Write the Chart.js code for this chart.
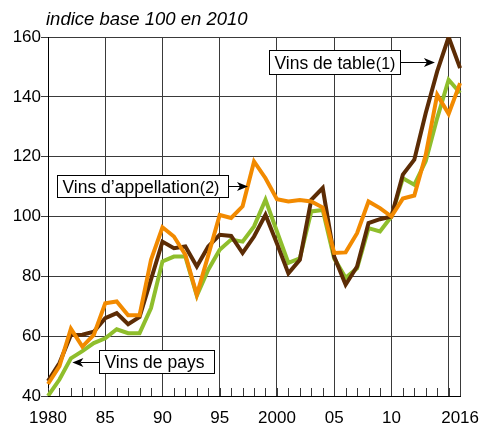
<!DOCTYPE html>
<html><head><meta charset="utf-8">
<script src="https://cdn.jsdelivr.net/npm/chart.js@4/dist/chart.umd.min.js"></script>
<style>html,body{margin:0;padding:0;background:#fff}</style>
</head><body>
<canvas id="c" width="491" height="424"></canvas>
<script>
const years = [1980,1981,1982,1983,1984,1985,1986,1987,1988,1989,1990,1991,1992,1993,1994,1995,1996,1997,1998,1999,2000,2001,2002,2003,2004,2005,2006,2007,2008,2009,2010,2011,2012,2013,2014,2015,2016];
const vinsDeTable = [45,51,60.4,60.5,61.5,66,67.7,64,66.4,79,91.6,89.4,90,83.3,90,93.9,93.5,87.8,93.3,100.6,91,81,85.5,105.6,109.5,86.6,77.2,83.3,97.8,99.1,100,114,119,134.6,148.5,160,149.6];
const vinsAppellation = [44,50,62.5,56.5,60.4,71,71.6,67,67,85.5,96.4,93.3,87.2,73.8,87,100.5,99.5,103.4,118.4,112.8,105.8,105,105.5,105,103,87.8,88,94.4,105,102.8,100,106,107,120.6,140.7,134.3,144.6];
const vinsDePays = [40,45.5,52.6,55,57.7,59.3,62.3,61,61,69.4,85,86.6,86.6,73.5,82.2,88.9,92.3,91.6,96.7,105.6,95,84.5,86,101.7,102.2,86,79.5,82.7,96.1,95,100,112.8,110.6,118.5,132.9,145.7,141.3];
const xTickLabels = {1980:'1980',1985:'85',1990:'90',1995:'95',2000:'2000',2005:'05',2010:'10',2016:'2016'};
const yTicks = [40,60,80,100,120,140,160];
const titleText = 'indice base 100 en 2010';

const FONT = '"Liberation Sans", Arial, sans-serif';
const GRID = '#3a3a3a';

// label annotations, in data units (x: year, y: index value)
const annotations = [
  {text:'Vins de table', note:'(1)', x0:1999.33, x1:2010.75, yTop:155.75, yBot:147.56, arrowTo:{x:2013.8, y:151.74}},
  {text:'Vins d\u2019appellation', note:'(2)', x0:1980.77, x1:1995.72, yTop:113.95, yBot:106.42, arrowTo:{x:1997.47, y:110.27}},
  {text:'Vins de pays', note:'', x0:1984.49, x1:1994.46, yTop:55.25, yBot:47.56, arrowTo:{x:1982.13, y:51.24}}
];

const decor = {
  id:'decor',
  beforeDatasetsDraw(chart){
    const ctx = chart.ctx, xs = chart.scales.x, a = chart.chartArea;
    ctx.save();
    ctx.strokeStyle = GRID; ctx.lineWidth = 1;
    years.forEach((yr,i)=>{
      const x = Math.round(xs.getPixelForValue(i)) + 0.5;
      ctx.beginPath(); ctx.moveTo(x, a.bottom); ctx.lineTo(x, a.bottom - 8); ctx.stroke();
    });
    ctx.restore();
  },
  afterDraw(chart){
    const ctx = chart.ctx, xs = chart.scales.x, ys = chart.scales.y, a = chart.chartArea;
    const px = yr => xs.getPixelForValue(yr - years[0]);
    ctx.save();
    ctx.fillStyle = '#000';
    ctx.font = 'italic 18.5px ' + FONT;
    ctx.textBaseline = 'alphabetic';
    ctx.fillText(titleText, a.left - 2, 25);
    annotations.forEach(an=>{
      const l = Math.round(px(an.x0)) + 0.5, r = Math.round(px(an.x1)) + 0.5;
      const t = Math.round(ys.getPixelForValue(an.yTop)) + 0.5, b = Math.round(ys.getPixelForValue(an.yBot)) + 0.5;
      ctx.fillStyle = '#fff'; ctx.fillRect(l, t, r - l, b - t);
      ctx.strokeStyle = '#000'; ctx.lineWidth = 1; ctx.strokeRect(l, t, r - l, b - t);
      ctx.fillStyle = '#000';
      ctx.font = '17.5px ' + FONT;
      const base = (t + b) / 2 + 6;
      ctx.fillText(an.text, l + 5, base);
      const w = ctx.measureText(an.text).width;
      if (an.note){ ctx.font = '16px ' + FONT; ctx.fillText(an.note, l + 5 + w + 0.5, base); }
      // arrow
      const ay = Math.round(ys.getPixelForValue(an.arrowTo.y)) + 0.5;
      const tip = px(an.arrowTo.x);
      const startX = tip > r ? r : l;
      const dir = tip > startX ? 1 : -1;
      ctx.beginPath(); ctx.moveTo(startX, ay); ctx.lineTo(tip - dir*8, ay); ctx.stroke();
      ctx.beginPath(); ctx.moveTo(tip, ay); ctx.lineTo(tip - dir*11, ay - 4.5); ctx.lineTo(tip - dir*8, ay); ctx.lineTo(tip - dir*11, ay + 4.5); ctx.closePath(); ctx.fill();
    });
    ctx.restore();
  }
};

new Chart(document.getElementById('c'), {
  type:'line',
  data:{
    labels: years.map(String),
    datasets:[
      {label:'Vins de pays', data:vinsDePays, borderColor:'#8fbe2c', order:3},
      {label:'Vins de table', data:vinsDeTable, borderColor:'#5c2c05', order:2},
      {label:'Vins d\u2019appellation', data:vinsAppellation, borderColor:'#f28a00', order:1}
    ]
  },
  options:{
    responsive:false, animation:false,
    elements:{line:{borderWidth:4, tension:0, borderCapStyle:'butt', borderJoinStyle:'miter'}, point:{radius:0}},
    layout:{padding:{left:0, right:20, top:37, bottom:0}},
    plugins:{legend:{display:false}, tooltip:{enabled:false}},
    scales:{
      x:{
        type:'category', offset:false,
        afterFit(s){ s.height = 28; },
        border:{color:'#000', width:1},
        grid:{drawTicks:false, lineWidth:1,
          color: c => { const yr = years[c.index]; return (yr % 5 === 0 || yr === years[years.length-1]) ? GRID : 'rgba(0,0,0,0)'; }},
        ticks:{autoSkip:false, maxRotation:0, minRotation:0, padding:12, color:'#000',
          font:{family:FONT, size:17},
          callback:(v,i)=> xTickLabels[years[i]] || ''}
      },
      y:{
        min:yTicks[0], max:yTicks[yTicks.length-1],
        afterFit(s){ s.width = 48; },
        afterBuildTicks(s){ s.ticks = yTicks.map(v=>({value:v})); },
        border:{color:'#000', width:1},
        grid:{color:GRID, lineWidth:1, tickLength:7},
        ticks:{padding:0, color:'#000', font:{family:FONT, size:17}}
      }
    }
  },
  plugins:[decor]
});
</script>
</body></html>
